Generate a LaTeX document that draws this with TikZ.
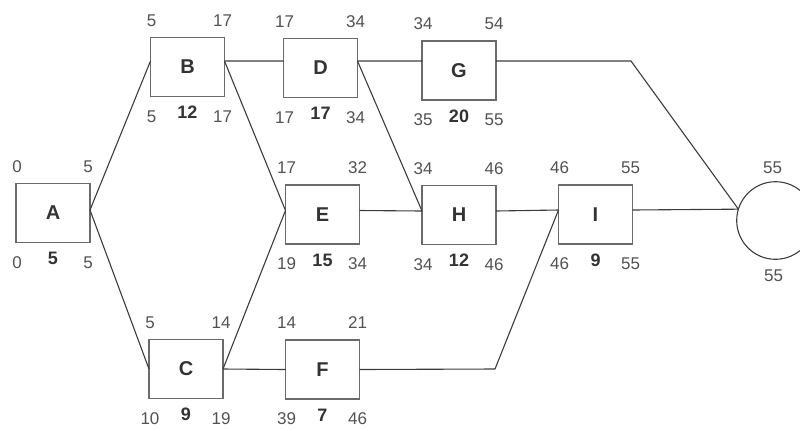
\documentclass[tikz,border=0pt]{standalone}
\usepackage{fontspec}
\setmainfont{Liberation Sans}
\usepackage{tikz}
\usetikzlibrary{positioning}

\definecolor{boxgray}{HTML}{6A6A6A}
\definecolor{linegray}{HTML}{3C3C3C}
\definecolor{textgray}{HTML}{333333}

\begin{document}
\begin{tikzpicture}[
    x=1bp, y=-1bp,
    task/.style={draw=boxgray, line width=1.6bp, minimum width=74bp, minimum height=59bp, outer sep=0pt,
        inner sep=0pt, text=textgray, font=\fontsize{20bp}{22bp}\selectfont\bfseries},
    num/.style={inner sep=0pt, text=textgray!85!white, font=\fontsize{17bp}{19bp}\selectfont},
    dur/.style={inner sep=0pt, text=textgray, font=\fontsize{18bp}{20bp}\selectfont\bfseries},
    link/.style={draw=linegray, line width=1.1bp, line join=round},
    finish/.style={circle, draw=linegray, line width=1.1bp, minimum size=77.6bp, inner sep=0pt, outer sep=0pt}
]
\useasboundingbox (0,0) rectangle (800,430);

% activities: name / x / y / line offset / ES / EF / LS / duration / LF
\foreach \n/\x/\y/\o/\es/\ef/\ls/\d/\lf in {
    A/53/213/3/0/5/0/5/5,
    B/187.5/67/6/5/17/5/12/17,
    C/186/369/0/5/14/10/9/19,
    D/320.5/68/7/17/34/17/17/34,
    E/322.5/214.5/4/17/32/19/15/34,
    F/322.5/369.5/0/14/21/39/7/46,
    G/459/70.5/9.5/34/54/35/20/55,
    H/459/215/4/34/46/34/12/46,
    I/595.5/214.5/4.5/46/55/46/9/55}
{
    \node[task] (\n) at (\x,\y) {\n};
    \coordinate (\n-l) at ([yshift=\o bp]\n.west);
    \coordinate (\n-r) at ([yshift=\o bp]\n.east);
    \node[num] (\n-es) at ([xshift=1bp,yshift=17bp]\n.north west) {\es};
    \node[num] (\n-ef) at ([xshift=-2bp,yshift=17bp]\n.north east) {\ef};
    \node[num] (\n-ls) at ([xshift=1bp,yshift=-20bp]\n.south west) {\ls};
    \node[dur] (\n-d) at ([yshift=-16bp]\n.south) {\d};
    \node[num] (\n-lf) at ([xshift=-2bp,yshift=-20bp]\n.south east) {\lf};
}

% end event
\node[finish] (fin) at (775.5,220.5) {};
\node[num] (fin-es) at ([xshift=-3bp,yshift=14bp]fin.north) {55};
\node[num] (fin-lf) at ([xshift=-2bp,yshift=-16bp]fin.south) {55};
\coordinate (fin-l) at (fin.163);

% bends
\coordinate (kG) at (631,61);
\coordinate (kF) at (495,369);

\draw[link] (A-r) -- (B-l);
\draw[link] (A-r) -- (C-l);
\draw[link] (B-r) -- (D-l);
\draw[link] (B-r) -- (E-l);
\draw[link] (C-r) -- (E-l);
\draw[link] (C-r) -- (F-l);
\draw[link] (D-r) -- (G-l);
\draw[link] (D-r) -- (H-l);
\draw[link] (E-r) -- (H-l);
\draw[link] (H-r) -- (I-l);
\draw[link] (F-r) -- (kF) -- (I-l);
\draw[link] (G-r) -- (kG) -- (fin-l);
\draw[link] (I-r) -- (fin-l);
\end{tikzpicture}
\end{document}
